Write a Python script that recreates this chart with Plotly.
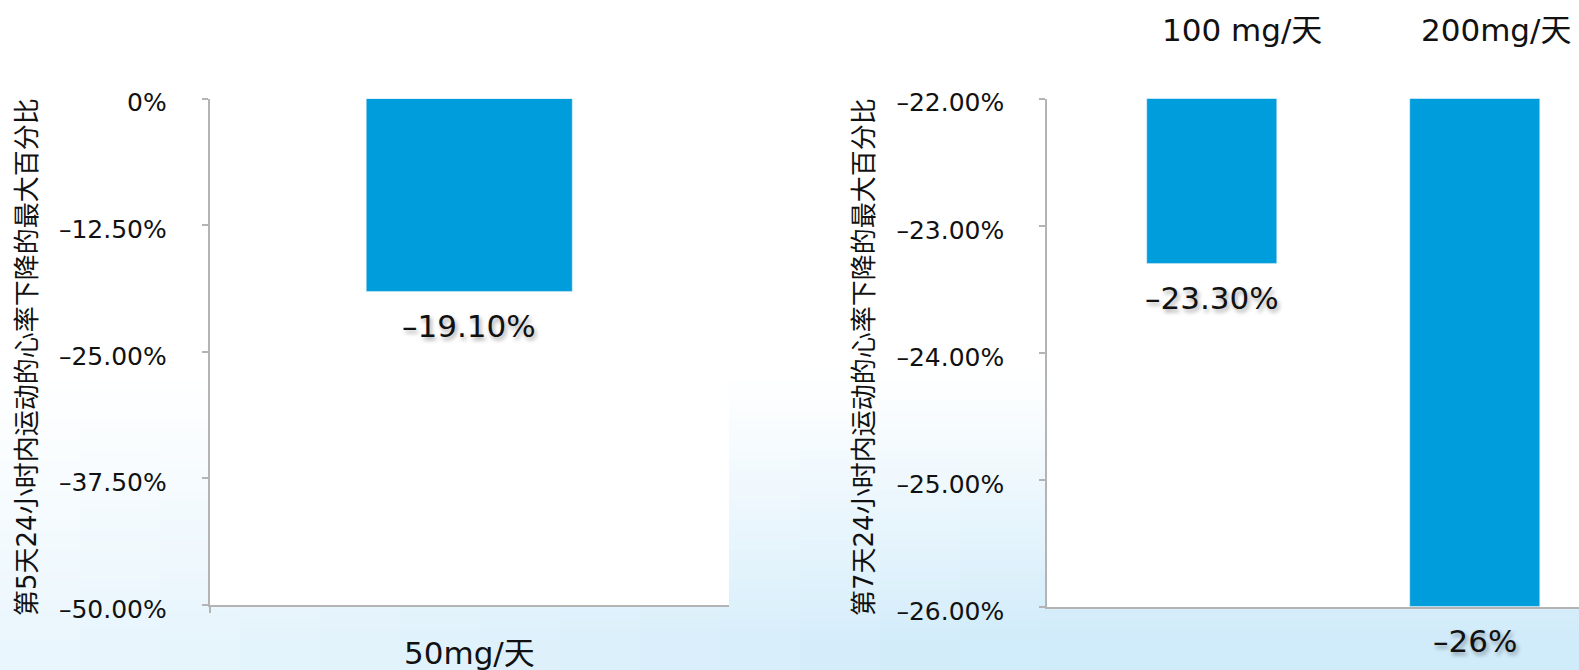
import plotly.graph_objects as go

# ---------------- data ----------------
left_categories = ["50mg/天"]
left_values = [-19.1]
left_labels = ["–19.10%"]
left_tickvals = [0, -12.5, -25, -37.5, -50]
left_ticktext = ["0%", "–12.50%", "–25.00%", "–37.50%", "–50.00%"]
left_title = "第5天24小时内运动的心率下降的最大百分比"

right_categories = ["100 mg/天", "200mg/天"]
right_values = [-23.3, -26.0]
right_labels = ["–23.30%", "–26%"]
right_tickvals = [-22, -23, -24, -25, -26]
right_ticktext = ["–22.00%", "–23.00%", "–24.00%", "–25.00%", "–26.00%"]
right_title = "第7天24小时内运动的心率下降的最大百分比"

# ---------------- style ----------------
W, H = 1579, 670
BAR = "#009ddc"
AXIS = "#b4b4b4"
FONT = "DejaVu Sans, Noto Sans CJK SC"
TXT = "#111111"

def py(p):  # pixel from top -> paper fraction
    return 1 - p / H

def px(p):
    return p / W

fig = go.Figure()

fig.add_trace(go.Bar(x=left_categories, y=left_values, marker_color=BAR,
                     width=0.397, xaxis="x", yaxis="y", showlegend=False,
                     hoverinfo="skip"))
fig.add_trace(go.Bar(x=right_categories, y=right_values, marker_color=BAR,
                     width=0.495, xaxis="x2", yaxis="y2", showlegend=False,
                     hoverinfo="skip"))

# background gradient (decoration)
shapes = []
target = (208, 235, 250)
step_y = 10
step_x = 80
for y0 in range(330, H + 20, step_y):
    yc = y0 + step_y / 2
    ty = min(1.0, max(0.0, (yc - 370) / 270))
    if ty <= 0:
        continue
    for x0 in range(0, W + 20, step_x):
        xc = x0 + step_x / 2
        i = (ty ** 1.1) * (0.42 + 0.58 * min(1.0, xc / 1050))
        col = tuple(round(255 - i * (255 - t)) for t in target)
        shapes.append(dict(type="rect", xref="paper", yref="paper",
                           x0=px(x0), x1=px(x0 + step_x + 1),
                           y0=py(y0 + step_y + 1), y1=py(y0),
                           fillcolor="rgb(%d,%d,%d)" % col, line_width=0,
                           layer="below"))
# white plot areas
shapes.append(dict(type="rect", xref="x domain", yref="y domain", x0=0, x1=1,
                   y0=0, y1=1, fillcolor="white", line_width=0, layer="below"))
shapes.append(dict(type="rect", xref="x2 domain", yref="y2 domain", x0=0, x1=1,
                   y0=0, y1=1, fillcolor="white", line_width=0, layer="below"))

annotations = []
# axis titles
annotations.append(dict(text=left_title, xref="paper", yref="paper",
                        x=px(27), y=py(357), textangle=-90, showarrow=False,
                        font=dict(family=FONT, size=26, color=TXT),
                        xanchor="center", yanchor="middle"))
annotations.append(dict(text=right_title, xref="paper", yref="paper",
                        x=px(864), y=py(357), textangle=-90, showarrow=False,
                        font=dict(family=FONT, size=26, color=TXT),
                        xanchor="center", yanchor="middle"))
# category labels
annotations.append(dict(text=left_categories[0], xref="x", yref="paper",
                        x=left_categories[0], y=py(653), showarrow=False,
                        font=dict(family=FONT, size=31, color=TXT),
                        yanchor="middle"))
for c, xs in zip(right_categories, [30, 21]):
    annotations.append(dict(text=c, xref="x2", yref="paper", x=c, y=py(30),
                            xshift=xs, showarrow=False,
                            font=dict(family=FONT, size=31, color=TXT),
                            yanchor="middle"))
# data labels
SH = "2px 3px 4px rgba(0,0,0,0.35)"
for c, v, t in zip(left_categories, left_values, left_labels):
    annotations.append(dict(text=t, xref="x", yref="y", x=c, y=v, yshift=-34,
                            showarrow=False, yanchor="middle",
                            font=dict(family=FONT, size=31, color=TXT, shadow=SH)))
for c, v, t in zip(right_categories, right_values, right_labels):
    annotations.append(dict(text=t, xref="x2", yref="y2", x=c, y=v, yshift=-34,
                            showarrow=False, yanchor="middle",
                            font=dict(family=FONT, size=31, color=TXT, shadow=SH)))

yaxis_common = dict(showgrid=False, zeroline=False, showline=True,
                    linecolor=AXIS, linewidth=1.5, ticks="outside", ticklen=6,
                    tickcolor=AXIS, tickwidth=1.5, automargin=False,
                    tickfont=dict(family=FONT, size=25, color=TXT),
                    ticklabelstandoff=30, ticklabelshift=4, fixedrange=True)

fig.update_layout(
    width=W, height=H, margin=dict(l=0, r=0, t=0, b=0, autoexpand=False),
    paper_bgcolor="white", plot_bgcolor="white",
    shapes=shapes, annotations=annotations, bargap=0,
    xaxis=dict(domain=[px(209.5), px(729)], range=[-0.5, 0.5],
               showticklabels=False, showgrid=False, zeroline=False,
               showline=True, linecolor=AXIS, linewidth=1.5, automargin=False,
               ticks="outside", tickson="boundaries", ticklen=6,
               tickcolor=AXIS, tickwidth=1.5, anchor="y", fixedrange=True),
    yaxis=dict(domain=[py(605), py(98.7)], range=[-50, 0],
               tickvals=left_tickvals, ticktext=left_ticktext, anchor="x",
               **yaxis_common),
    xaxis2=dict(domain=[px(1047), 1.0], range=[-0.627, 1.395],
                showticklabels=False, showgrid=False, zeroline=False,
                showline=True, linecolor=AXIS, linewidth=1.5, ticks="",
                automargin=False, anchor="y2", fixedrange=True),
    yaxis2=dict(domain=[py(607), py(98.7)], range=[-26, -22],
                tickvals=right_tickvals, ticktext=right_ticktext, anchor="x2",
                **yaxis_common),
)

fig.write_html("out.html", config={"displayModeBar": False},
               post_script="document.body.style.margin='0';"
                           "document.body.style.overflow='hidden';")
